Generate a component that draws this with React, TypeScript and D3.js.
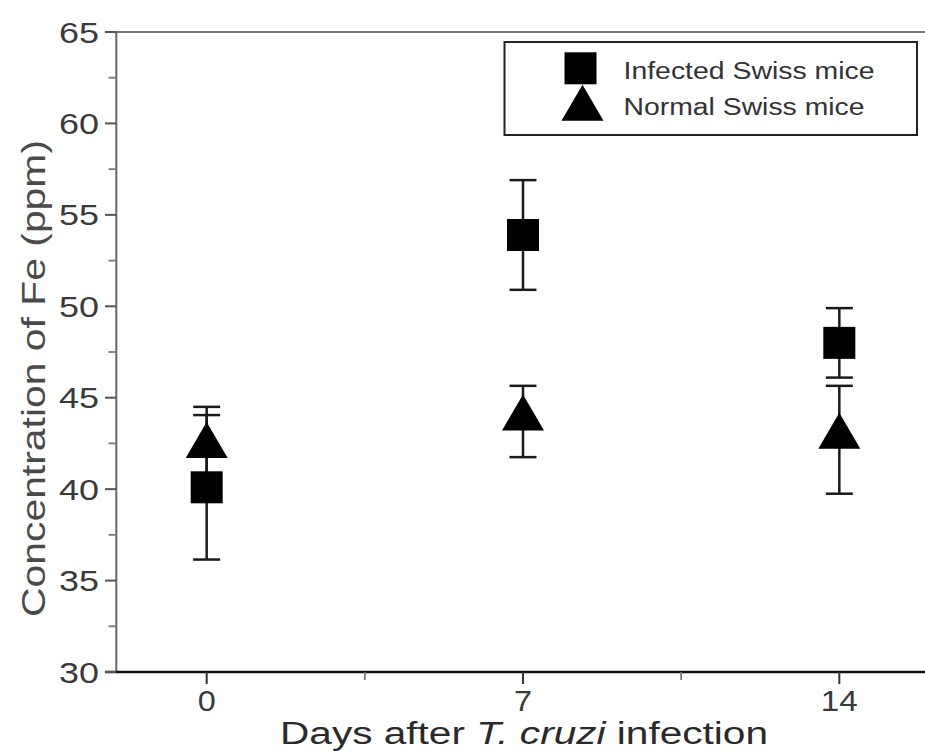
import React from "react";
import * as d3 from "d3";

// Fe concentration (ppm) by day after infection, mean ± error
const days = [0, 7, 14];
const infectedMean = [40.1, 53.9, 48.0];
const infectedErr = [3.95, 3.0, 1.9];
const normalMean = [42.2, 43.7, 42.7];
const normalErr = [2.3, 1.95, 2.95];

const yTicks = [30, 35, 40, 45, 50, 55, 60, 65];
const yMinorTicks = [32.5, 37.5, 42.5, 47.5, 52.5, 57.5, 62.5];
const xTicks = [0, 7, 14];
const xMinorTicks = [3.5, 10.5];
const seriesNames = ["Infected Swiss mice", "Normal Swiss mice"];

const W = 925;
const H = 751;

const x = d3.scaleLinear().domain([-2, 16]).range([116.3, 929.7]);
const y = d3.scaleLinear().domain([30, 65]).range([672, 32]);

const SQ = 32;
// triangle marker: apex above, base slightly below the data point
const triPath = d3.line()([
  [0, -27],
  [21, 9],
  [-21, 9],
]) + "Z";

const textColor = "#3a3a3a";
const font = "'Liberation Sans', Arial, sans-serif";

function ErrorBar({ cx, mean, err }: { cx: number; mean: number; err: number }) {
  const top = y(mean + err);
  const bot = y(mean - err);
  const cap = 13.5;
  return (
    <g stroke="#1a1a1a" strokeWidth={2.5}>
      <line x1={cx} x2={cx} y1={top} y2={bot} />
      <line x1={cx - cap} x2={cx + cap} y1={top} y2={top} />
      <line x1={cx - cap} x2={cx + cap} y1={bot} y2={bot} />
    </g>
  );
}

export default function App() {
  const x0 = x.range()[0];
  return (
    <svg
      width={W}
      height={H}
      viewBox={`0 0 ${W} ${H}`}
      style={{ position: "absolute", left: 0, top: 0, background: "#fff" }}
    >
      <rect width={W} height={H} fill="#fff" />

      {/* frame */}
      <line x1={105} x2={W} y1={y(65)} y2={y(65)} stroke="#777" strokeWidth={2} />
      <line x1={x0} x2={x0} y1={y(65)} y2={y(30)} stroke="#666" strokeWidth={2} />
      <line x1={105} x2={W} y1={y(30)} y2={y(30)} stroke="#111" strokeWidth={2.5} />

      {/* y ticks */}
      {yTicks.map((t) => (
        <g key={"y" + t}>
          <line x1={105} x2={x0} y1={y(t)} y2={y(t)} stroke="#555" strokeWidth={2} />
          <text
            x={99}
            y={y(t) + 10.5}
            textAnchor="end"
            fontFamily={font}
            fontSize={29}
            fill={textColor}
            textLength={40}
            lengthAdjust="spacingAndGlyphs"
          >
            {t}
          </text>
        </g>
      ))}
      {yMinorTicks.map((t) => (
        <line key={"ym" + t} x1={108.5} x2={x0} y1={y(t)} y2={y(t)} stroke="#777" strokeWidth={1.8} />
      ))}

      {/* x ticks */}
      {xTicks.map((t) => (
        <g key={"x" + t}>
          <line x1={x(t)} x2={x(t)} y1={y(30)} y2={y(30) + 12} stroke="#333" strokeWidth={2} />
          <text
            x={x(t)}
            y={711}
            textAnchor="middle"
            fontFamily={font}
            fontSize={30}
            fill={textColor}
            textLength={String(t).length === 1 ? 18 : 37}
            lengthAdjust="spacingAndGlyphs"
          >
            {t}
          </text>
        </g>
      ))}
      {xMinorTicks.map((t) => (
        <line key={"xm" + t} x1={x(t)} x2={x(t)} y1={y(30)} y2={y(30) + 8} stroke="#777" strokeWidth={1.8} />
      ))}

      {/* axis titles */}
      <text
        x={280}
        y={744}
        fontFamily={font}
        fontSize={31}
        fill="#2a2a2a"
        textLength={488}
        lengthAdjust="spacingAndGlyphs"
      >
        Days after <tspan fontStyle="italic">T. cruzi</tspan> infection
      </text>
      <text
        transform={`translate(45, 617) rotate(-90)`}
        fontFamily={font}
        fontSize={33}
        fill="#4a4a4a"
        textLength={477}
        lengthAdjust="spacingAndGlyphs"
      >
        Concentration of Fe (ppm)
      </text>

      {/* error bars */}
      {days.map((d, i) => (
        <ErrorBar key={"ei" + d} cx={x(d)} mean={infectedMean[i]} err={infectedErr[i]} />
      ))}
      {days.map((d, i) => (
        <ErrorBar key={"en" + d} cx={x(d)} mean={normalMean[i]} err={normalErr[i]} />
      ))}

      {/* markers */}
      {days.map((d, i) => (
        <rect
          key={"si" + d}
          x={x(d) - SQ / 2}
          y={y(infectedMean[i]) - SQ / 2}
          width={SQ}
          height={SQ}
          fill="#000"
        />
      ))}
      {days.map((d, i) => (
        <path key={"tn" + d} d={triPath} transform={`translate(${x(d)},${y(normalMean[i])})`} fill="#000" />
      ))}

      {/* legend */}
      <rect x={504.5} y={42} width={412.5} height={93} fill="#fff" stroke="#222" strokeWidth={2} />
      <rect x={580.5 - SQ / 2} y={68.3 - SQ / 2} width={SQ} height={SQ} fill="#000" />
      <path d={triPath} transform="translate(582.5,111.7)" fill="#000" />
      <text
        x={623.5}
        y={78.5}
        fontFamily={font}
        fontSize={23}
        fill="#333"
        textLength={251}
        lengthAdjust="spacingAndGlyphs"
      >
        {seriesNames[0]}
      </text>
      <text
        x={623.5}
        y={115}
        fontFamily={font}
        fontSize={23}
        fill="#333"
        textLength={241}
        lengthAdjust="spacingAndGlyphs"
      >
        {seriesNames[1]}
      </text>
    </svg>
  );
}
